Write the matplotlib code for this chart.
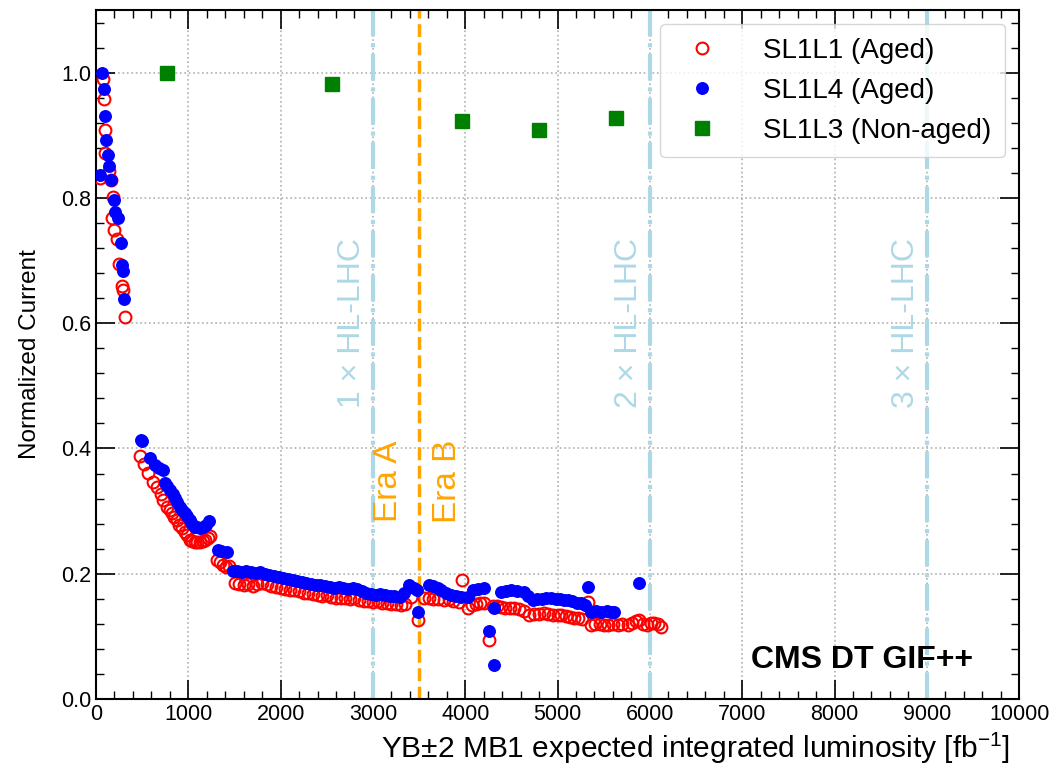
import matplotlib
matplotlib.use("Agg")
import matplotlib.pyplot as plt
from matplotlib.ticker import MultipleLocator

plt.rcParams['font.family'] = ['Liberation Sans', 'DejaVu Sans']
plt.rcParams['mathtext.fontset'] = 'custom'
plt.rcParams['mathtext.rm'] = 'Liberation Sans'
plt.rcParams['mathtext.it'] = 'Liberation Sans:italic'

# SL1L1 (aged) - open red circles
sl1l1_x = [45, 72, 87, 98, 101, 141, 159, 170, 181, 195, 224, 252, 278, 296, 314,
           477, 520, 563, 618, 661, 700, 726, 769, 800, 823, 850, 878, 905, 932, 960,
           986, 1018, 1045, 1073, 1100, 1127, 1155, 1181, 1210, 1235, 1308, 1340, 1376,
           1410, 1440, 1506, 1550, 1600, 1650, 1700, 1750, 1800, 1850, 1900, 1950, 2000,
           2050, 2100, 2150, 2200, 2250, 2300, 2350, 2400, 2450, 2500, 2550, 2600, 2650,
           2700, 2750, 2800, 2850, 2900, 2950, 3000, 3050, 3100, 3150, 3200, 3250, 3300,
           3350, 3409, 3488, 3550, 3605, 3650, 3700, 3768, 3820, 3870, 3930, 3970, 4025,
           4070, 4120, 4160, 4202, 4258, 4300, 4340, 4386, 4430, 4480, 4530, 4580, 4640,
           4690, 4740, 4800, 4853, 4900, 4950, 5000, 5038, 5090, 5140, 5180, 5219, 5270,
           5328, 5364, 5410, 5460, 5500, 5545, 5600, 5650, 5700, 5762, 5810, 5850, 5885,
           5930, 5970, 6010, 6048, 6090, 6124]
sl1l1_y = [0.832, 0.990, 0.958, 0.909, 0.872, 0.843, 0.829, 0.768, 0.802, 0.748, 0.735,
           0.695, 0.660, 0.653, 0.610,
           0.388, 0.375, 0.361, 0.347, 0.339, 0.328, 0.318, 0.307, 0.302, 0.297, 0.290,
           0.286, 0.278, 0.273, 0.267, 0.262, 0.254, 0.252, 0.251, 0.250, 0.251, 0.253,
           0.254, 0.257, 0.260, 0.222, 0.218, 0.214, 0.211, 0.212, 0.185, 0.183, 0.182,
           0.184, 0.181, 0.183, 0.185, 0.183, 0.180, 0.179, 0.178, 0.176, 0.174, 0.174,
           0.172, 0.170, 0.170, 0.168, 0.166, 0.165, 0.166, 0.163, 0.161, 0.162, 0.161,
           0.160, 0.161, 0.158, 0.156, 0.157, 0.155, 0.156, 0.154, 0.153, 0.152, 0.151,
           0.150, 0.152, 0.163, 0.126, 0.162, 0.161, 0.160, 0.159, 0.158, 0.159, 0.157,
           0.155, 0.190, 0.145, 0.150, 0.152, 0.153, 0.153, 0.094, 0.148, 0.149, 0.147,
           0.146, 0.146, 0.145, 0.143, 0.140, 0.134, 0.135, 0.136, 0.137, 0.135, 0.134,
           0.134, 0.134, 0.132, 0.131, 0.130, 0.129, 0.127, 0.155, 0.118, 0.119, 0.119,
           0.118, 0.118, 0.119, 0.118, 0.119, 0.118, 0.121, 0.124, 0.126, 0.120, 0.118,
           0.122, 0.121, 0.119, 0.115]

# SL1L4 (aged) - filled blue circles
sl1l4_x = [43, 68, 87, 98, 108, 127, 141, 162, 195, 206, 242, 267, 278, 296, 307,
           484, 500, 585, 639, 680, 722, 748, 775, 802, 830, 856, 883, 910, 937, 964,
           990, 1018, 1045, 1073, 1100, 1127, 1160, 1190, 1224, 1322, 1360, 1419, 1486,
           1530, 1580, 1630, 1680, 1730, 1780, 1830, 1880, 1930, 1980, 2030, 2080, 2130,
           2180, 2230, 2280, 2330, 2380, 2430, 2480, 2530, 2580, 2630, 2680, 2730, 2780,
           2830, 2880, 2930, 2980, 3030, 3080, 3130, 3180, 3230, 3293, 3340, 3390, 3440,
           3482, 3488, 3606, 3650, 3700, 3735, 3790, 3844, 3900, 3952, 4025, 4080, 4140,
           4202, 4258, 4312, 4307, 4386, 4440, 4495, 4560, 4636, 4680, 4730, 4780, 4830,
           4880, 4929, 4980, 5030, 5070, 5110, 5160, 5210, 5255, 5300, 5328, 5364, 5420,
           5472, 5530, 5580, 5613, 5885]
sl1l4_y = [0.837, 1.000, 0.974, 0.930, 0.893, 0.869, 0.851, 0.828, 0.797, 0.778, 0.768,
           0.728, 0.693, 0.683, 0.639,
           0.414, 0.412, 0.385, 0.374, 0.368, 0.365, 0.345, 0.340, 0.334, 0.328, 0.321,
           0.314, 0.307, 0.302, 0.297, 0.292, 0.286, 0.280, 0.275, 0.274, 0.273, 0.275,
           0.278, 0.284, 0.238, 0.236, 0.235, 0.205, 0.204, 0.203, 0.205, 0.203, 0.201,
           0.202, 0.200, 0.198, 0.196, 0.195, 0.193, 0.192, 0.190, 0.188, 0.186, 0.185,
           0.184, 0.182, 0.182, 0.180, 0.179, 0.178, 0.179, 0.177, 0.176, 0.177, 0.175,
           0.172, 0.169, 0.167, 0.166, 0.167, 0.166, 0.165, 0.164, 0.163, 0.170, 0.182,
           0.178, 0.174, 0.139, 0.182, 0.180, 0.177, 0.174, 0.170, 0.166, 0.165, 0.163,
           0.163, 0.174, 0.176, 0.177, 0.108, 0.145, 0.054, 0.171, 0.173, 0.174, 0.173,
           0.171, 0.165, 0.158, 0.159, 0.160, 0.161, 0.161, 0.160, 0.159, 0.158, 0.158,
           0.156, 0.154, 0.153, 0.150, 0.179, 0.139, 0.140, 0.139, 0.140, 0.139, 0.139,
           0.185]

# SL1L3 (non-aged) - green squares
sl1l3_x = [771, 2562, 3963, 4799, 5635]
sl1l3_y = [1.000, 0.982, 0.923, 0.909, 0.927]

hl_lhc_x = [3000, 6000, 9000]
hl_lhc_labels = ["1 × HL-LHC", "2 × HL-LHC", "3 × HL-LHC"]
era_split = 3500

fig = plt.figure(figsize=(10.54, 7.71), dpi=100)
ax = fig.add_axes([0.091, 0.0934, 0.876, 0.8936])

ax.grid(True, which='major', linestyle=':', color='#b0b0b0', linewidth=1.2, zorder=0)
ax.set_axisbelow(True)

for xv, lab in zip(hl_lhc_x, hl_lhc_labels):
    ax.axvline(xv, color='lightblue', linestyle='-.', linewidth=3, zorder=1)
    ax.text(xv - 230, 0.60, lab, rotation=90, color='lightblue', fontsize=23,
            ha='center', va='center')

ax.axvline(era_split, color='orange', linestyle='--', linewidth=2.5, zorder=1)
ax.text(era_split - 330, 0.347, "Era A", rotation=90, color='orange', fontsize=24,
        ha='center', va='center')
ax.text(era_split + 310, 0.347, "Era B", rotation=90, color='orange', fontsize=24,
        ha='center', va='center')

ax.plot(sl1l1_x, sl1l1_y, linestyle='none', marker='o', markersize=8.5,
        markerfacecolor='none', markeredgecolor='red', markeredgewidth=1.5,
        label='SL1L1 (Aged)', zorder=3)
ax.plot(sl1l4_x, sl1l4_y, linestyle='none', marker='o', markersize=8.3,
        color='blue', label='SL1L4 (Aged)', zorder=3)
ax.plot(sl1l3_x, sl1l3_y, linestyle='none', marker='s', markersize=10,
        color='green', label='SL1L3 (Non-aged)', zorder=3)

ax.text(9500, 0.062, "CMS DT GIF++", fontsize=23, fontweight='bold',
        ha='right', va='center')

ax.set_xlim(0, 10000)
ax.set_ylim(0, 1.1)
ax.xaxis.set_major_locator(MultipleLocator(1000))
ax.xaxis.set_minor_locator(MultipleLocator(200))
ax.yaxis.set_major_locator(MultipleLocator(0.2))
ax.yaxis.set_minor_locator(MultipleLocator(0.04))
ax.tick_params(which='both', direction='in', top=True, right=True, labelsize=15.5)
ax.tick_params(which='major', length=14, width=1.2)
ax.tick_params(which='minor', length=6, width=1)
for sp in ax.spines.values():
    sp.set_linewidth(1.5)

ax.set_xlabel("YB±2 MB1 expected integrated luminosity [fb$^{-1}$]", fontsize=21.5,
              loc='right')
ax.xaxis.label.set_x(0.99)
ax.set_ylabel("Normalized Current", fontsize=17.5, labelpad=14)

ax.legend(loc='upper right', fontsize=20, framealpha=0.8, edgecolor='#cccccc',
          handletextpad=1.2, borderpad=0.5)

fig.savefig("out.png", dpi=100)
